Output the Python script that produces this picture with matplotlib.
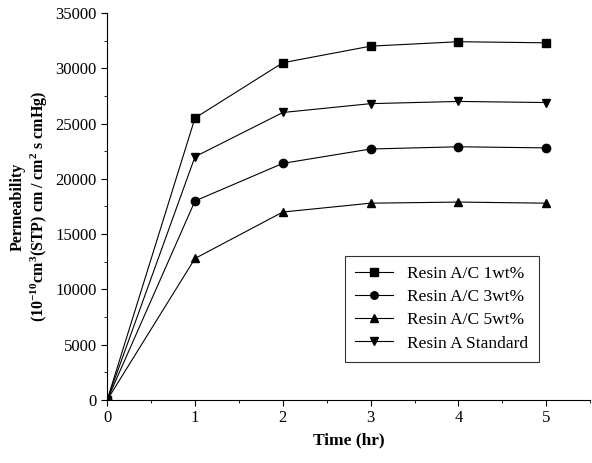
import numpy as np
import matplotlib
matplotlib.use('Agg')
import matplotlib.pyplot as plt
from matplotlib.ticker import MultipleLocator

plt.rcParams['font.family'] = 'Liberation Serif'
plt.rcParams['mathtext.default'] = 'regular'

time_hr = [0, 1, 2, 3, 4, 5]
resin_1wt = [0, 25500, 30500, 32000, 32400, 32300]
resin_3wt = [0, 18000, 21400, 22700, 22900, 22800]
resin_5wt = [0, 12800, 17000, 17800, 17900, 17800]
resin_std = [0, 22000, 26000, 26800, 27000, 26900]

series = [
    (resin_1wt, 's', 'Resin A/C 1wt%'),
    (resin_3wt, 'o', 'Resin A/C 3wt%'),
    (resin_5wt, '^', 'Resin A/C 5wt%'),
    (resin_std, 'v', 'Resin A Standard'),
]

fig = plt.figure(figsize=(5.92, 4.63), dpi=100)
ax = fig.add_axes([0.181, 0.136, 0.816, 0.836])

for vals, mk, lab in series:
    ax.plot(time_hr, vals, color='black', marker=mk, markersize=6, linewidth=0.8, label=lab)

ax.set_xlim(0, 5.5)
ax.set_ylim(0, 35000)
ax.xaxis.set_major_locator(MultipleLocator(1))
ax.xaxis.set_minor_locator(MultipleLocator(0.5))
ax.yaxis.set_major_locator(MultipleLocator(5000))
ax.yaxis.set_minor_locator(MultipleLocator(2500))
ax.spines['top'].set_visible(False)
ax.spines['right'].set_visible(False)
ax.tick_params(which='major', direction='out', length=4, labelsize=12)
ax.tick_params(which='minor', direction='out', length=2)

ax.set_xlabel('Time (hr)', fontsize=12.5, fontweight='bold')
ax.set_ylabel('Permeability\n(10$^{-10}$cm$^{3}$(STP) cm / cm$^{2}$ s cmHg)',
              fontsize=11.5, fontweight='bold', linespacing=1.2)

leg = ax.legend(loc='upper left', bbox_to_anchor=(336 / 592, 1 - 247 / 463),
                bbox_transform=fig.transFigure, fontsize=12.5, frameon=True,
                fancybox=False, edgecolor='black', handlelength=2.2,
                borderpad=0.6, labelspacing=0.4, markerscale=0.9)
leg.get_frame().set_linewidth(0.8)

fig.savefig('out.png', dpi=100)
